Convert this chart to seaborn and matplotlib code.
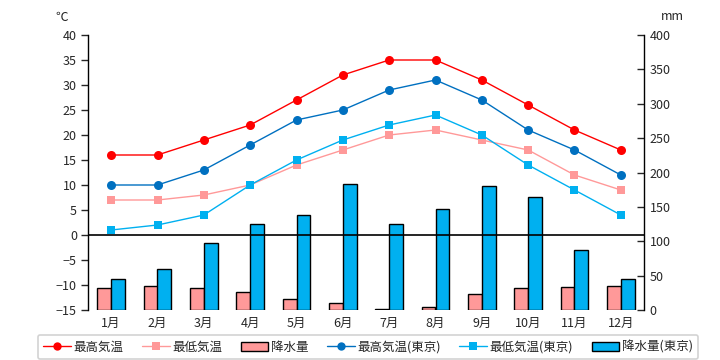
import numpy as np
import pandas as pd
import matplotlib
matplotlib.use("Agg")
import matplotlib.pyplot as plt
import seaborn as sns
from matplotlib.lines import Line2D
from matplotlib.patches import Patch

months = ["1月", "2月", "3月", "4月", "5月", "6月", "7月", "8月", "9月", "10月", "11月", "12月"]
high = [16, 16, 19, 22, 27, 32, 35, 35, 31, 26, 21, 17]
low = [7, 7, 8, 10, 14, 17, 20, 21, 19, 17, 12, 9]
high_tokyo = [10, 10, 13, 18, 23, 25, 29, 31, 27, 21, 17, 12]
low_tokyo = [1, 2, 4, 10, 15, 19, 22, 24, 20, 14, 9, 4]
precip = [32, 35, 32, 26, 16, 10, 1, 5, 23, 32, 33, 35]
precip_tokyo = [45, 60, 98, 125, 138, 184, 125, 147, 180, 164, 88, 45]

labels = ["最高気温", "最低気温", "降水量", "最高気温(東京)", "最低気温(東京)", "降水量(東京)"]
c_red, c_pink, c_blue, c_cyan = "#FF0000", "#FF9999", "#0070C0", "#00B0F0"

sns.set_style("white")
plt.rcParams["font.family"] = ["Noto Sans CJK JP", "DejaVu Sans"]

fig = plt.figure(figsize=(7.2, 3.6), dpi=100)
ax = fig.add_axes([88 / 720, 50 / 360, 556 / 720, 275 / 360])
ax2 = ax.twinx()

# precipitation bars on right axis
df_p = pd.DataFrame({
    "month": months * 2,
    "precip": precip + precip_tokyo,
    "city": [labels[2]] * 12 + [labels[5]] * 12,
})
sns.barplot(data=df_p, x="month", y="precip", hue="city", palette=[c_pink, c_cyan],
            edgecolor="black", linewidth=1, width=0.6, ax=ax2, legend=False, saturation=1)

ax2.set_ylim(0, 400)
ax2.set_yticks(range(0, 401, 50))
ax2.set_ylabel("")
ax2.set_xlabel("")
ax2.patch.set_facecolor("#FFFFCC")

# temperature lines on left axis, above bars
ax.set_zorder(ax2.get_zorder() + 1)
ax.patch.set_visible(False)
x = np.arange(len(months))
df_t = pd.DataFrame({"x": x, "high": high, "low": low, "high_t": high_tokyo, "low_t": low_tokyo})
ax.axhline(0, color="black", lw=1.2, zorder=1)
series = [("low", c_pink, "s"), ("low_t", c_cyan, "s"), ("high_t", c_blue, "o"), ("high", c_red, "o")]
for col, c, m in series:
    sns.lineplot(data=df_t, x="x", y=col, color=c, marker=m, markersize=6.5 if m == "o" else 6,
                 markeredgewidth=0, lw=1, ax=ax, zorder=3)
ax.set_ylim(-15, 40)
ax.set_yticks(range(-15, 41, 5))
ax.set_xlim(-0.5, 11.5)
ax.set_xticks(x)
ax.set_xticklabels(months)
ax.set_xlabel("")
ax.set_ylabel("")
ax2.set_xlim(-0.5, 11.5)

for a in (ax, ax2):
    for s in ("top", "bottom"):
        a.spines[s].set_visible(False)
    a.spines["left"].set_color("black")
    a.spines["right"].set_color("black")
    a.spines["left"].set_linewidth(1)
    a.spines["right"].set_linewidth(1)
ax.spines["right"].set_visible(False)
ax2.spines["left"].set_visible(False)

ax.tick_params(axis="y", direction="out", length=5, width=1, labelsize=9, left=True, pad=3)
ax.tick_params(axis="x", length=0, labelsize=9, pad=5)
ax2.tick_params(axis="y", direction="in", length=5, width=1, labelsize=9, right=True, pad=4)
ax2.tick_params(axis="x", length=0)

fig.text(62 / 720, 1 - 17 / 360, "℃", fontsize=9, ha="center", va="center")
fig.text(672 / 720, 1 - 17 / 360, "mm", fontsize=9, ha="center", va="center")

handles = [
    Line2D([], [], color=c_red, marker="o", markersize=6, markeredgewidth=0, lw=1),
    Line2D([], [], color=c_pink, marker="s", markersize=6, markeredgewidth=0, lw=1),
    Patch(facecolor=c_pink, edgecolor="black", lw=1),
    Line2D([], [], color=c_blue, marker="o", markersize=6, markeredgewidth=0, lw=1),
    Line2D([], [], color=c_cyan, marker="s", markersize=6, markeredgewidth=0, lw=1),
    Patch(facecolor=c_cyan, edgecolor="black", lw=1),
]
leg = fig.legend(handles, labels, loc="center", bbox_to_anchor=(368 / 720, 1 - 347 / 360),
                 ncol=6, fontsize=9, frameon=True, fancybox=True, edgecolor="#C8C8C8",
                 handlelength=2.2, handletextpad=0.2, columnspacing=1.5, borderpad=0.45)
leg.get_frame().set_linewidth(1.2)

fig.savefig("out.png", dpi=100, facecolor="white")
